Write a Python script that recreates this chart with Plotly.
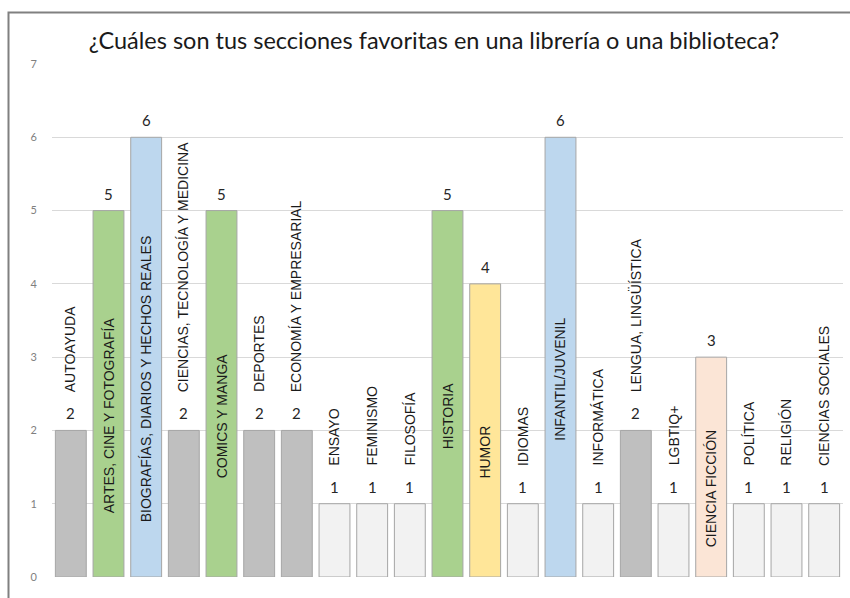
import plotly.graph_objects as go

categories = [
    "AUTOAYUDA", "ARTES, CINE Y FOTOGRAFÍA", "BIOGRAFÍAS, DIARIOS Y HECHOS REALES",
    "CIENCIAS, TECNOLOGÍA Y MEDICINA", "COMICS Y MANGA", "DEPORTES",
    "ECONOMÍA Y EMPRESARIAL", "ENSAYO", "FEMINISMO", "FILOSOFÍA", "HISTORIA",
    "HUMOR", "IDIOMAS", "INFANTIL/JUVENIL", "INFORMÁTICA", "LENGUA, LINGÜÍSTICA",
    "LGBTIQ+", "CIENCIA FICCIÓN", "POLÍTICA", "RELIGIÓN", "CIENCIAS SOCIALES",
]
values = [2, 5, 6, 2, 5, 2, 2, 1, 1, 1, 5, 4, 1, 6, 1, 2, 1, 3, 1, 1, 1]
y_ticks = [0, 1, 2, 3, 4, 5, 6, 7]
title_text = "¿Cuáles son tus secciones favoritas en una librería o una biblioteca?"

palette = {1: "#f2f2f2", 2: "#bfbfbf", 3: "#fbe5d6", 4: "#ffe699", 5: "#a9d18e", 6: "#bdd7ee"}
colors = [palette[v] for v in values]

W, H = 850, 598
ML, MR, MT, MB = 52, 7, 64, 21

fig = go.Figure()
fig.add_trace(go.Bar(
    x=categories, y=values,
    marker=dict(color=colors, line=dict(color="#a6a6a6", width=1)),
    hoverinfo="x+y",
))

annotations = []
for c, v in zip(categories, values):
    annotations.append(dict(
        x=c, y=v, xref="x", yref="y", text=str(v), showarrow=False,
        yanchor="bottom", yshift=6,
        font=dict(family="Lato", size=15, color="#262626"),
    ))
    if v >= 3:
        annotations.append(dict(
            x=c, y=v / 2, xref="x", yref="y", text=c, showarrow=False,
            textangle=-90, yanchor="middle", yshift=-22,
            font=dict(family="Liberation Sans", size=14, color="#1a1a1a"),
        ))
    else:
        annotations.append(dict(
            x=c, y=v, xref="x", yref="y", text=c, showarrow=False,
            textangle=-90, yanchor="bottom", yshift=36,
            font=dict(family="Liberation Sans", size=14, color="#1a1a1a"),
        ))

pw = W - ML - MR
ph = H - MT - MB
def px_to_paper_x(px):
    return (px - ML) / pw
def px_to_paper_y(py):
    return (H - MB - py) / ph

fig.update_layout(
    width=W, height=H,
    margin=dict(l=ML, r=MR, t=MT, b=MB),
    paper_bgcolor="white", plot_bgcolor="white",
    bargap=0.18,
    showlegend=False,
    title=dict(text=title_text, x=px_to_paper_x(434), xref="paper", xanchor="center",
               y=1 - 41 / H, yanchor="middle",
               font=dict(family="Lato", size=23.5, color="#1a1a1a")),
    xaxis=dict(showticklabels=False, showgrid=False, zeroline=False, showline=False,
               ticks=""),
    yaxis=dict(range=[0, 7], tickvals=y_ticks, showgrid=True, gridcolor="#d9d9d9",
               gridwidth=1, zeroline=False, showline=False,
               tickfont=dict(family="Lato", size=11, color="#7f7f7f"), ticklabelstandoff=14),
    annotations=annotations,
    shapes=[dict(type="rect", xref="paper", yref="paper",
                 x0=px_to_paper_x(8.5), x1=px_to_paper_x(870),
                 y0=px_to_paper_y(620), y1=px_to_paper_y(12.5),
                 line=dict(color="#808080", width=2), fillcolor="rgba(0,0,0,0)",
                 layer="above")],
)

fig.write_html("out.html", config={"displayModeBar": False},
               post_script="document.body.style.margin='0';document.body.style.overflow='hidden';")
